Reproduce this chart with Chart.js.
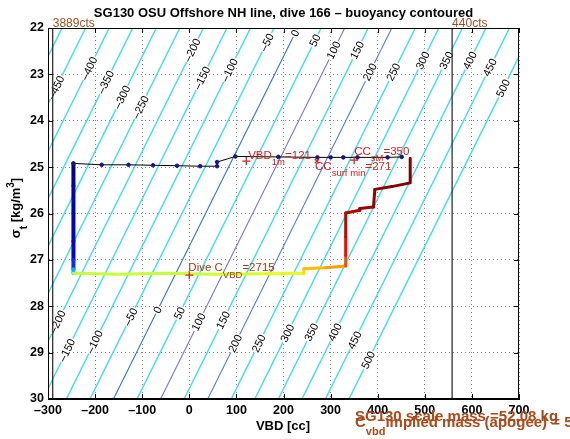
<!DOCTYPE html>
<html>
<head>
<meta charset="utf-8">
<script src="https://cdn.jsdelivr.net/npm/chart.js@4.4.1/dist/chart.umd.min.js"></script>
<style>
html, body { margin: 0; padding: 0; background: #fff; }
</style>
</head>
<body>
<canvas id="buoyancyChart" width="570" height="439"></canvas>
<script>
var FONT = '"Liberation Sans", Arial, Helvetica, sans-serif';

// buoyancy contours: VBD where each level meets sigma = 30 (bottom) and sigma = 22 (top)
var CONTOUR_LEVELS = [-500, -450, -400, -350, -300, -250, -200, -150, -100, -50, 0, 50, 100, 150, 200, 250, 300, 350, 400, 450, 500];
var CONTOUR_VBD_AT_30 = [-661, -611, -561, -511, -461, -411, -361, -311, -261, -211, -161, -111, -61, -11, 39, 89, 139, 189, 239, 289, 339];
var CONTOUR_VBD_AT_22 = [-270, -220, -170, -120, -70, -20, 30, 80, 130, 180, 230, 280, 330, 380, 430, 480, 530, 580, 630, 680, 730];
var BLUE_LEVELS = [0, 100, 200];

// where the contour labels sit (sigma along each line)
var LABEL_LEVELS_TOP = [-450, -400, -350, -300, -250, -200, -150, -100, -50, 0, 50, 100, 150, 200, 250, 300, 350, 400, 450, 500];
var LABEL_SIGMA_TOP = [23.28, 22.87, 23.17, 23.49, 23.71, 22.48, 23.08, 22.91, 22.31, 22.11, 22.27, 22.48, 22.48, 22.95, 22.95, 22.70, 22.70, 22.70, 22.85, 23.30];
var LABEL_LEVELS_BOTTOM = [-200, -150, -100, -50, 0, 50, 100, 150, 200, 250, 300, 350, 400, 450, 500];
var LABEL_SIGMA_BOTTOM = [28.34, 28.95, 28.77, 28.23, 28.08, 28.15, 28.34, 28.30, 28.80, 28.80, 28.58, 28.56, 28.56, 28.73, 29.16];

// dive trace (colored by time)
var TRACE_VBD = [-246, -246, -246, -246, -246, -246, -246, -150, -50, 50, 150, 243, 243, 290, 332, 332, 332, 332, 362, 362, 391, 394, 430, 469, 469];
var TRACE_SIGMA = [24.92, 25.4, 26.0, 26.6, 27.0, 27.2, 27.29, 27.31, 27.29, 27.31, 27.30, 27.29, 27.19, 27.17, 27.13, 26.9, 26.5, 25.99, 25.93, 25.89, 25.86, 25.48, 25.42, 25.34, 24.81];
var TRACE_T = [0.0, 0.03, 0.06, 0.08, 0.1, 0.17, 0.3, 0.57, 0.57, 0.57, 0.58, 0.6, 0.66, 0.69, 0.72, 0.8, 0.87, 0.92, 0.95, 0.96, 0.97, 0.98, 0.99, 1.0, 1.0];

// apogee / surface points
var APOGEE_VBD = [-246, -186, -129, -77, -26, 23, 59, 59, 98, 189, 272, 300, 327, 357, 421, 451];
var APOGEE_SIGMA = [24.92, 24.95, 24.95, 24.96, 24.97, 24.98, 24.98, 24.89, 24.77, 24.78, 24.79, 24.79, 24.79, 24.79, 24.79, 24.78];

// marked values: VBD 1m, CC surf min, CC sM, dive C_VBD
var MARKER_VBD = [121, 271, 350, 0];
var MARKER_SIGMA = [24.87, 24.87, 24.85, 27.33];

// pump limits
var LIMIT_VBD = [-290, 558];
var LIMIT_LABELS = ['3889cts', '440cts'];

function jet(t) {
    var c = function(v) { return Math.round(255 * Math.max(0, Math.min(1, v))); };
    var r = Math.min(4 * t - 1.5, -4 * t + 4.5);
    var g = Math.min(4 * t - 0.5, -4 * t + 3.5);
    var b = Math.min(4 * t + 0.5, -4 * t + 2.5);
    return 'rgb(' + c(r) + ',' + c(g) + ',' + c(b) + ')';
}

function dashNum(v) {
    return v < 0 ? '\u2013' + (-v) : String(v);
}

// text with sub/superscript pieces: parts = [[text, ''|'sub'|'sup'], ...]
function drawRich(ctx, x, y, parts, color, size, subSize, bold, align) {
    var weight = bold ? 'bold ' : '';
    var widths = parts.map(function(p) {
        ctx.font = weight + (p[1] ? subSize : size) + 'px ' + FONT;
        return ctx.measureText(p[0]).width;
    });
    var total = widths.reduce(function(a, b) { return a + b; }, 0);
    if (align == 'center') x -= total / 2;
    ctx.fillStyle = color;
    ctx.textBaseline = 'middle';
    ctx.textAlign = 'left';
    parts.forEach(function(p, i) {
        ctx.font = weight + (p[1] ? subSize : size) + 'px ' + FONT;
        var dy = p[1] == 'sub' ? size * 0.6 : (p[1] == 'sup' ? -size * 0.4 : 0);
        ctx.fillText(p[0], x, y + dy);
        x += widths[i];
    });
}

var contourSets = CONTOUR_LEVELS.map(function(level, i) {
    var blue = {0: 'rgb(55,115,190)', 100: 'rgb(115,120,210)', 200: 'rgb(85,125,215)'};
    var isBlue = BLUE_LEVELS.indexOf(level) > -1;
    return {
        data: [{x: CONTOUR_VBD_AT_30[i], y: 30}, {x: CONTOUR_VBD_AT_22[i], y: 22}],
        showLine: true,
        borderColor: isBlue ? blue[level] : 'rgb(70,222,228)',
        borderWidth: isBlue ? 1.1 : 1.5,
        pointRadius: 0,
        order: 5,
        isContour: true
    };
});

var limitSets = LIMIT_VBD.map(function(v) {
    return {
        data: [{x: v, y: 22}, {x: v, y: 30}],
        showLine: true,
        borderColor: '#222',
        borderWidth: 1.2,
        pointRadius: 0,
        order: 4
    };
});

var traceSet = {
    data: TRACE_VBD.map(function(v, i) { return {x: v, y: TRACE_SIGMA[i]}; }),
    showLine: true,
    pointRadius: 0,
    borderColor: jet(0),
    borderCapStyle: 'round',
    borderJoinStyle: 'round',
    segment: {
        borderColor: function(ctx) { return jet(TRACE_T[ctx.p1DataIndex]); },
        borderWidth: function(ctx) { return ctx.p1DataIndex <= 6 ? 4 : 3; }
    },
    order: 3
};

var apogeeSet = {
    data: APOGEE_VBD.map(function(v, i) { return {x: v, y: APOGEE_SIGMA[i]}; }),
    showLine: true,
    borderColor: '#000',
    borderWidth: 1,
    pointRadius: 1.8,
    pointBackgroundColor: '#15158c',
    pointBorderColor: '#15158c',
    order: 2
};

var markerSet = {
    data: MARKER_VBD.map(function(v, i) { return {x: v, y: MARKER_SIGMA[i]}; }),
    showLine: false,
    pointStyle: ['cross', 'crossRot', 'cross', 'cross'],
    pointRadius: [4, 3, 4, 4],
    pointBorderColor: '#dd2020',
    pointBorderWidth: 1.3,
    order: 1
};

var labelPlugin = {
    id: 'contourLabels',
    afterDatasetDraw: function(chart, args) {
        if (args.index !== 0) return;
        var ctx = chart.ctx, xs = chart.scales.x, ys = chart.scales.y, a = chart.chartArea;
        ctx.save();
        ctx.beginPath();
        ctx.rect(a.left, a.top, a.right - a.left, a.bottom - a.top);
        ctx.clip();
        ctx.font = '11px ' + FONT;
        ctx.textAlign = 'center';
        ctx.textBaseline = 'middle';
        [[LABEL_LEVELS_TOP, LABEL_SIGMA_TOP], [LABEL_LEVELS_BOTTOM, LABEL_SIGMA_BOTTOM]].forEach(function(group) {
            group[0].forEach(function(level, k) {
                var i = CONTOUR_LEVELS.indexOf(level);
                var s = group[1][k];
                var f = (30 - s) / 8;
                var vbd = CONTOUR_VBD_AT_30[i] + (CONTOUR_VBD_AT_22[i] - CONTOUR_VBD_AT_30[i]) * f;
                var px = xs.getPixelForValue(vbd), py = ys.getPixelForValue(s);
                var ang = Math.atan2(ys.getPixelForValue(22) - ys.getPixelForValue(30),
                    xs.getPixelForValue(CONTOUR_VBD_AT_22[i]) - xs.getPixelForValue(CONTOUR_VBD_AT_30[i]));
                var txt = dashNum(level);
                var w = ctx.measureText(txt).width;
                ctx.save();
                ctx.translate(px, py);
                ctx.rotate(ang);
                ctx.fillStyle = '#fff';
                ctx.fillRect(-w / 2 - 1, -4, w + 2, 8);
                ctx.fillStyle = '#000';
                ctx.fillText(txt, 0, 0.5);
                ctx.restore();
            });
        });
        ctx.restore();
    }
};

var decorPlugin = {
    id: 'decor',
    afterDraw: function(chart) {
        var ctx = chart.ctx, xs = chart.scales.x, ys = chart.scales.y, a = chart.chartArea;
        ctx.save();
        // box and inward ticks
        ctx.strokeStyle = '#000';
        ctx.lineWidth = 1;
        ctx.strokeRect(a.left + 0.5, a.top + 0.5, a.right - a.left - 1, a.bottom - a.top - 1);
        ctx.beginPath();
        xs.ticks.forEach(function(t) {
            var px = Math.round(xs.getPixelForValue(t.value)) + 0.5;
            ctx.moveTo(px, a.bottom); ctx.lineTo(px, a.bottom - 5);
            ctx.moveTo(px, a.top); ctx.lineTo(px, a.top + 5);
        });
        ys.ticks.forEach(function(t) {
            var py = Math.round(ys.getPixelForValue(t.value)) + 0.5;
            ctx.moveTo(a.left, py); ctx.lineTo(a.left + 5, py);
            ctx.moveTo(a.right, py); ctx.lineTo(a.right - 5, py);
        });
        ctx.stroke();

        // title and axis titles
        ctx.fillStyle = '#000';
        ctx.font = 'bold 13px ' + FONT;
        ctx.textAlign = 'center';
        ctx.textBaseline = 'middle';
        ctx.fillText('SG130 OSU Offshore NH line, dive 166 \u2013 buoyancy contoured', (a.left + a.right) / 2, 13);
        ctx.fillText('VBD [cc]', 283, 426);
        ctx.save();
        ctx.translate(16, 208);
        ctx.rotate(-Math.PI / 2);
        drawRich(ctx, 0, 0, [['\u03c3', ''], ['t', 'sub'], [' [kg/m', ''], ['3', 'sup'], [']', '']], '#000', 13, 10, true, 'center');
        ctx.restore();

        // pump limit labels
        ctx.font = '12px ' + FONT;
        ctx.fillStyle = '#a0501e';
        ctx.textAlign = 'left';
        LIMIT_VBD.forEach(function(v, i) {
            ctx.fillText(LIMIT_LABELS[i], xs.getPixelForValue(v), a.top - 4);
        });

        // marker annotations
        var red = '#d42020';
        drawRich(ctx, xs.getPixelForValue(125), ys.getPixelForValue(24.75),
            [['VBD', ''], ['1m', 'sub'], ['=121', '']], red, 11.5, 9.5, false);
        drawRich(ctx, xs.getPixelForValue(267), ys.getPixelForValue(24.99),
            [['CC', ''], ['surf min', 'sub'], ['=271', '']], red, 11.5, 9.5, false);
        drawRich(ctx, xs.getPixelForValue(350), ys.getPixelForValue(24.67),
            [['CC', ''], ['sM', 'sub'], ['=350', '']], red, 11.5, 9.5, false);
        drawRich(ctx, xs.getPixelForValue(-2), ys.getPixelForValue(27.18),
            [['Dive C', ''], ['VBD', 'sub'], ['=2715', '']], '#9a3c14', 11.5, 9.5, false);

        // mass summary, overlapping as in the original
        var brown = '#a84a1a';
        drawRich(ctx, 355, 417, [['SG130 scale mass =52.08 kg', '']], brown, 15, 11, true);
        drawRich(ctx, 355, 423, [['C', ''], ['vbd', 'sub'], ['implied mass (apogee) = 52.129 kg', '']], brown, 15, 11, true);
        ctx.restore();
    }
};

var gridOpts = {color: '#888', lineWidth: 1, drawTicks: false};

new Chart(document.getElementById('buoyancyChart'), {
    type: 'scatter',
    data: {
        datasets: contourSets.concat(limitSets, [traceSet, apogeeSet, markerSet])
    },
    options: {
        responsive: false,
        animation: false,
        events: [],
        layout: {padding: {left: 0, top: 28, right: 51, bottom: 0}},
        scales: {
            x: {
                type: 'linear',
                min: -300,
                max: 700,
                grid: gridOpts,
                border: {display: true, color: '#000', dash: [1, 3]},
                ticks: {
                    stepSize: 100,
                    padding: 4,
                    color: '#000',
                    font: {family: FONT, size: 12.5, weight: 'bold'},
                    callback: function(v) { return dashNum(v); }
                },
                afterFit: function(scale) { scale.height = 40; }
            },
            y: {
                type: 'linear',
                min: 22,
                max: 30,
                reverse: true,
                grid: gridOpts,
                border: {display: true, color: '#000', dash: [1, 3]},
                ticks: {
                    stepSize: 1,
                    padding: 4,
                    color: '#000',
                    font: {family: FONT, size: 12.5, weight: 'bold'}
                },
                afterFit: function(scale) { scale.width = 48; }
            }
        },
        plugins: {
            legend: {display: false},
            tooltip: {enabled: false},
            title: {display: false}
        }
    },
    plugins: [labelPlugin, decorPlugin]
});
</script>
</body>
</html>
